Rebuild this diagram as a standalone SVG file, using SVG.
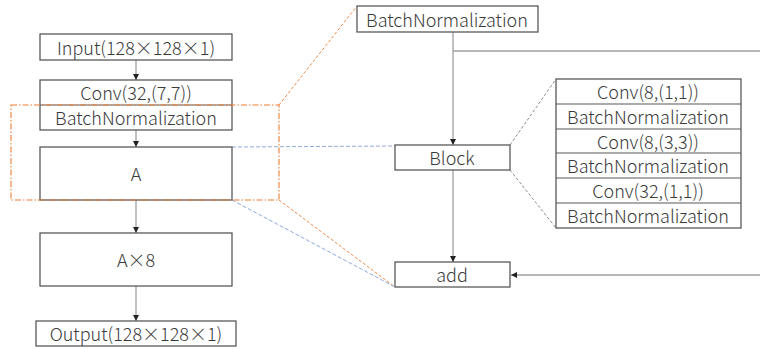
<svg xmlns="http://www.w3.org/2000/svg" width="760" height="349" viewBox="0 0 760 349">
<style>
.box{fill:#fff;stroke:#595959;stroke-width:1.3}
.t{font-family:"Noto Sans CJK JP","Noto Sans",sans-serif;font-size:18px;font-weight:300;fill:#3a3a3a;text-anchor:middle;dominant-baseline:central}
.c{stroke:#a0a0a0;stroke-width:1.3;fill:none}
.og{stroke:#ed7d31;stroke-width:0.9;fill:none;stroke-dasharray:3,2}
.bl{stroke:#8faadc;stroke-width:1;fill:none;stroke-dasharray:4,2}
.gr{stroke:#7f7f7f;stroke-width:0.9;fill:none;stroke-dasharray:3,2}
</style>
<defs>
<marker id="ah" markerWidth="8" markerHeight="8" refX="7" refY="4" orient="auto" markerUnits="userSpaceOnUse">
<path d="M1,1 L7,4 L1,7 Z" fill="#222"/>
</marker>
</defs>
<g id="connectors">
<line class="c" x1="136" y1="60" x2="136" y2="80" marker-end="url(#ah)"/>
<line class="c" x1="136" y1="130" x2="136" y2="147" marker-end="url(#ah)"/>
<line class="c" x1="136" y1="200" x2="136" y2="233" marker-end="url(#ah)"/>
<line class="c" x1="136" y1="286" x2="136" y2="321" marker-end="url(#ah)"/>
<line class="c" x1="453" y1="32" x2="453" y2="145" marker-end="url(#ah)"/>
<polyline class="c" points="453,51 760,51"/>
<line class="c" x1="453" y1="170" x2="453" y2="262" marker-end="url(#ah)"/>
<line class="c" x1="760" y1="275" x2="511" y2="275" marker-end="url(#ah)"/>
<line class="og" x1="279" y1="105" x2="357" y2="6"/>
<line class="og" x1="279" y1="200" x2="395" y2="287"/>
<line class="bl" x1="232" y1="147" x2="395" y2="146"/>
<line class="bl" x1="232" y1="200" x2="395" y2="287"/>
<line class="gr" x1="510" y1="145" x2="556" y2="79"/>
<line class="gr" x1="510" y1="170" x2="556" y2="228"/>
</g>
<g id="input"><rect class="box" x="40" y="34" width="192" height="26"/><text class="t" x="136" y="47">Input(128×128×1)</text></g>
<g id="conv-bn"><rect class="box" x="40" y="80" width="192" height="50"/><line stroke="#595959" stroke-width="1" x1="40" y1="105" x2="232" y2="105"/><text class="t" x="136" y="92">Conv(32,(7,7))</text><text class="t" x="136" y="117">BatchNormalization</text></g>
<g id="a"><rect class="box" x="40" y="147" width="192" height="53"/><text class="t" x="136" y="173">A</text></g>
<g id="a8"><rect class="box" x="40" y="233" width="192" height="53"/><text class="t" x="136" y="259">A×8</text></g>
<g id="output"><rect class="box" x="36" y="321" width="200" height="25"/><text class="t" x="136" y="333">Output(128×128×1)</text></g>
<g id="highlight"><rect x="11" y="105" width="268" height="95" fill="none" stroke="#ed7d31" stroke-width="1.1" stroke-dasharray="6,2,1.5,2"/></g>
<g id="bn-top"><rect class="box" x="357" y="6" width="181" height="26"/><text class="t" x="447" y="19">BatchNormalization</text></g>
<g id="block"><rect class="box" x="395" y="145" width="115" height="25"/><text class="t" x="452" y="157">Block</text></g>
<g id="add"><rect class="box" x="395" y="262" width="115" height="25"/><text class="t" x="452" y="274">add</text></g>
<g id="block-detail">
<rect class="box" x="556" y="79" width="185" height="149"/>
<g stroke="#595959" stroke-width="1.2">
<line x1="556" y1="104" x2="741" y2="104"/><line x1="556" y1="129" x2="741" y2="129"/><line x1="556" y1="153" x2="741" y2="153"/><line x1="556" y1="178" x2="741" y2="178"/><line x1="556" y1="203" x2="741" y2="203"/>
</g>
<text class="t" x="648" y="91">Conv(8,(1,1))</text>
<text class="t" x="648" y="116">BatchNormalization</text>
<text class="t" x="648" y="141">Conv(8,(3,3))</text>
<text class="t" x="648" y="165">BatchNormalization</text>
<text class="t" x="648" y="190">Conv(32,(1,1))</text>
<text class="t" x="648" y="215">BatchNormalization</text>
</g>
</svg>
